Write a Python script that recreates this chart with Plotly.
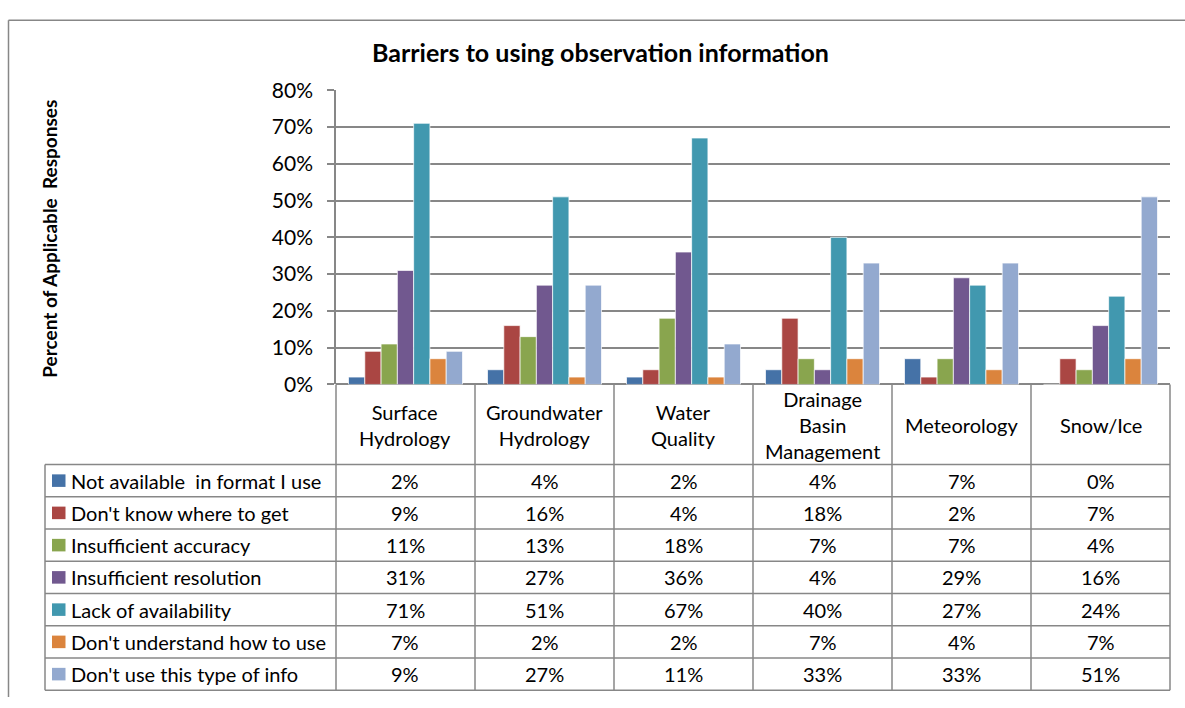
import plotly.graph_objects as go

# categories and survey results (percent of applicable responses)
categories = ["Surface<br>Hydrology", "Groundwater<br>Hydrology", "Water<br>Quality",
              "Drainage<br>Basin<br>Management", "Meteorology", "Snow/Ice"]

series_names = ["Not available  in format I use", "Don't know where to get",
                "Insufficient accuracy", "Insufficient resolution",
                "Lack of availability", "Don't understand how to use",
                "Don't use this type of info"]

not_available = [2, 4, 2, 4, 7, 0]
dont_know = [9, 16, 4, 18, 2, 7]
accuracy = [11, 13, 18, 7, 7, 4]
resolution = [31, 27, 36, 4, 29, 16]
availability = [71, 51, 67, 40, 27, 24]
dont_understand = [7, 2, 2, 7, 4, 7]
dont_use = [9, 27, 11, 33, 33, 51]

series_values = [not_available, dont_know, accuracy, resolution,
                 availability, dont_understand, dont_use]

colors = ["#4572A7", "#AA4643", "#89A54E", "#71588F",
          "#4198AF", "#DB843D", "#93A9CF"]

# nominal canvas; everything is placed in paper fractions of it
W, H = 1185, 708
FONT = "Lato, Carlito, Calibri, sans-serif"
GRID = "#878787"
TXT = 20


def px(x):
    return x / W


def py(y):
    return 1 - y / H


# plot area and table geometry (pixels)
plot_left, plot_right = 336, 1170
plot_top, plot_bottom = 79, 384
table_left = 45
header_bottom = 467
row_h = (701 - header_bottom) / 7
col_w = (plot_right - plot_left) / len(categories)

fig = go.Figure()

x_idx = list(range(len(categories)))
for name, vals, col in zip(series_names, series_values, colors):
    fig.add_trace(go.Bar(
        x=x_idx,
        y=[v / 100 for v in vals],
        name=name,
        marker=dict(color=col, line=dict(color="rgba(255,255,255,0.7)", width=1)),
        showlegend=False,
    ))

shapes = []
annotations = []


def hline(x0, x1, y):
    shapes.append(dict(type="line", xref="paper", yref="paper",
                       x0=px(x0), x1=px(x1), y0=py(y), y1=py(y),
                       line=dict(color=GRID, width=1.5)))


def vline(x, y0, y1):
    shapes.append(dict(type="line", xref="paper", yref="paper",
                       x0=px(x), x1=px(x), y0=py(y0), y1=py(y1),
                       line=dict(color=GRID, width=1.5)))


# outer chart border
hline(8.5, W, 6.5)
vline(8.5, 6.5, H)

# table grid
for i in range(len(categories) + 1):
    vline(plot_left + i * col_w, plot_bottom, 701)
vline(table_left, header_bottom, 701)
for r in range(8):
    hline(table_left, plot_right, header_bottom + r * row_h)

# header labels
for i, cat in enumerate(categories):
    annotations.append(dict(
        xref="paper", yref="paper",
        x=px(plot_left + (i + 0.5) * col_w), y=py((plot_bottom + header_bottom) / 2 + 1),
        text=cat, showarrow=False, xanchor="center", yanchor="middle",
        font=dict(family=FONT, size=TXT, color="black")))

# rows: legend key + name + values
for r, (name, vals, col) in enumerate(zip(series_names, series_values, colors)):
    yc = header_bottom + (r + 0.5) * row_h
    shapes.append(dict(type="rect", xref="paper", yref="paper",
                       x0=px(52), x1=px(65.5), y0=py(yc - 6.5), y1=py(yc + 6.5),
                       fillcolor=col, line=dict(width=0)))
    annotations.append(dict(
        xref="paper", yref="paper", x=px(69), y=py(yc), text=name,
        showarrow=False, xanchor="left", yanchor="middle",
        font=dict(family=FONT, size=TXT, color="black")))
    for i, v in enumerate(vals):
        annotations.append(dict(
            xref="paper", yref="paper",
            x=px(plot_left + (i + 0.5) * col_w), y=py(yc), text=f"{v}%",
            showarrow=False, xanchor="center", yanchor="middle",
            font=dict(family=FONT, size=TXT, color="black")))

# title and y-axis title
annotations.append(dict(
    xref="paper", yref="paper", x=px(600), y=py(39),
    text="<b>Barriers to using observation information</b>",
    showarrow=False, xanchor="center", yanchor="middle",
    font=dict(family=FONT, size=25, color="black")))
annotations.append(dict(
    xref="paper", yref="paper", x=px(50), y=py(233),
    text="<b>Percent of Applicable  Responses</b>", textangle=-90,
    showarrow=False, xanchor="center", yanchor="middle",
    font=dict(family=FONT, size=19, color="black")))

fig.update_layout(
    autosize=True,
    margin=dict(l=0, r=0, t=0, b=0),
    paper_bgcolor="white", plot_bgcolor="white",
    barmode="group", bargap=0.18, bargroupgap=0,
    shapes=shapes, annotations=annotations,
    font=dict(family=FONT, color="black"),
    xaxis=dict(domain=[px(plot_left), px(plot_right)], range=[-0.5, len(categories) - 0.5],
               showticklabels=False, showgrid=False, zeroline=False, showline=False,
               fixedrange=True),
    yaxis=dict(domain=[py(plot_bottom), py(plot_top)], range=[0, 0.8], dtick=0.1,
               tickformat=".0%", showgrid=True, gridcolor=GRID, gridwidth=1.5,
               zeroline=True, zerolinecolor=GRID, zerolinewidth=1.5,
               showline=True, linecolor=GRID, linewidth=1.5,
               ticks="outside", ticklen=7, tickcolor=GRID, tickwidth=1.5,
               ticklabelstandoff=10,
               tickfont=dict(family=FONT, size=21, color="black")),
)

# figure fills the window exactly, no page margin
fig.write_html("out.html", config={"displayModeBar": False, "responsive": True},
               default_width="100vw", default_height="100vh",
               post_script="document.body.style.margin='0';document.body.style.overflow='hidden';")
